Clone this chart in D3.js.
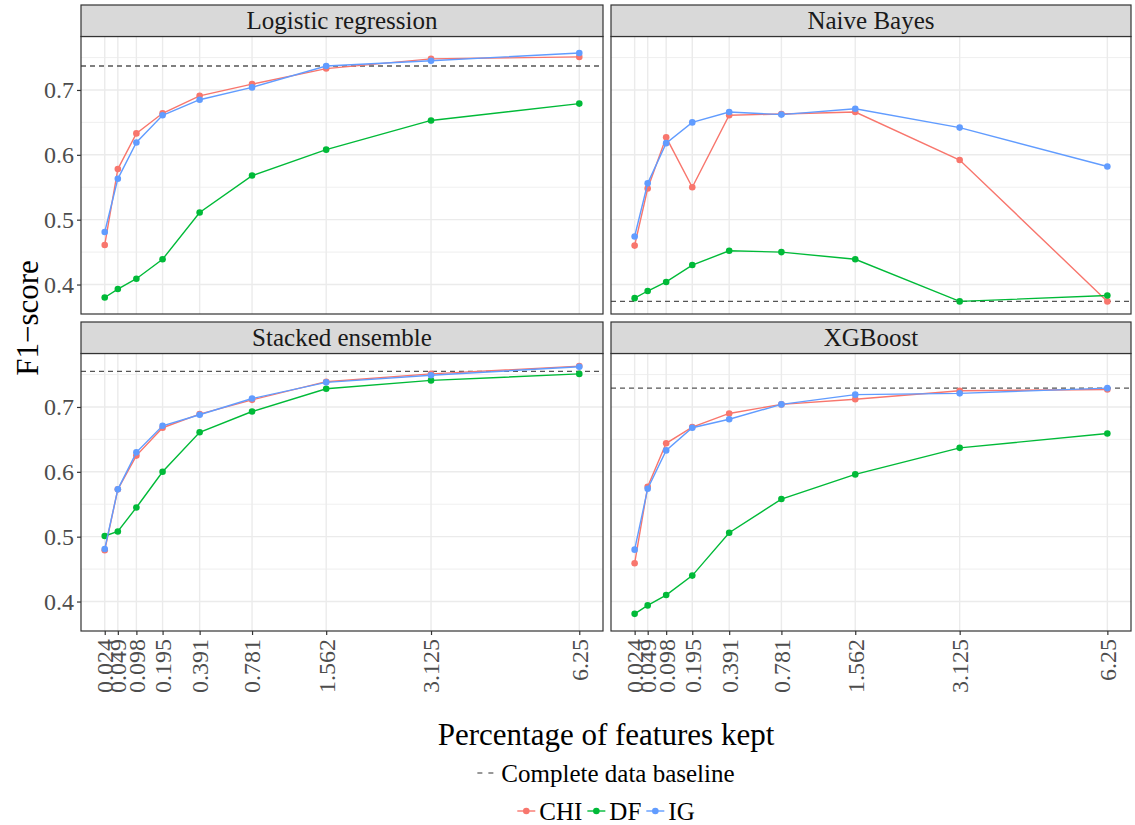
<!DOCTYPE html>
<html>
<head>
<meta charset="utf-8">
<script src="https://cdn.jsdelivr.net/npm/d3@7"></script>
<style>
  html, body { margin: 0; padding: 0; background: #fff; }
  svg { display: block; font-family: "Liberation Serif", "Times New Roman", serif; }
</style>
</head>
<body>
<svg id="chart" width="1135" height="825"></svg>
<script>
// Facets, x positions and series (F1-score per feature selector)
const methods = ["Logistic regression", "Naive Bayes", "Stacked ensemble", "XGBoost"];
const selectors = ["CHI", "DF", "IG"];
const pctKept = [0.0244, 0.0488, 0.0977, 0.1953, 0.3906, 0.78125, 1.5625, 3.125, 6.25];
const pctLabels = ["0.024", "0.049", "0.098", "0.195", "0.391", "0.781", "1.562", "3.125", "6.25"];
const yTicks = [0.4, 0.5, 0.6, 0.7];

const lrCHI = [0.461, 0.578, 0.633, 0.664, 0.691, 0.709, 0.733, 0.748, 0.751];
const lrDF  = [0.380, 0.393, 0.409, 0.439, 0.511, 0.568, 0.608, 0.653, 0.679];
const lrIG  = [0.481, 0.563, 0.619, 0.661, 0.685, 0.704, 0.737, 0.745, 0.757];

const nbCHI = [0.460, 0.548, 0.627, 0.550, 0.661, 0.663, 0.666, 0.592, 0.374];
const nbDF  = [0.379, 0.390, 0.404, 0.430, 0.452, 0.450, 0.439, 0.374, 0.383];
const nbIG  = [0.474, 0.556, 0.618, 0.650, 0.666, 0.662, 0.671, 0.642, 0.582];

const seCHI = [0.479, 0.573, 0.625, 0.668, 0.689, 0.711, 0.739, 0.751, 0.763];
const seDF  = [0.501, 0.508, 0.545, 0.600, 0.661, 0.693, 0.728, 0.741, 0.751];
const seIG  = [0.481, 0.573, 0.630, 0.671, 0.688, 0.713, 0.738, 0.749, 0.762];

const xgCHI = [0.459, 0.577, 0.644, 0.669, 0.690, 0.704, 0.712, 0.725, 0.727];
const xgDF  = [0.381, 0.394, 0.410, 0.440, 0.506, 0.558, 0.596, 0.637, 0.659];
const xgIG  = [0.480, 0.574, 0.633, 0.668, 0.681, 0.704, 0.719, 0.721, 0.729];

// Complete-data F1-score per model
const baselines = [0.737, 0.374, 0.755, 0.729];

const seriesByMethod = [
  [lrCHI, lrDF, lrIG],
  [nbCHI, nbDF, nbIG],
  [seCHI, seDF, seIG],
  [xgCHI, xgDF, xgIG]
];
const colors = { CHI: "#F8766D", DF: "#00BA38", IG: "#619CFF" };

const svg = d3.select("#chart");
const serif = "Liberation Serif, Times New Roman, serif";

// Panel grid geometry
const colX = [[81, 603], [611, 1131]];
const rowY = [{ strip: 5, top: 36.5, bottom: 314 }, { strip: 322, top: 353.5, bottom: 631 }];

// Shared scales (square-root x, linear y), padded 5% beyond the data range
const sx0 = Math.sqrt(d3.min(pctKept)), sx1 = Math.sqrt(d3.max(pctKept));
const xPad = (sx1 - sx0) * 0.05;
const allY = seriesByMethod.flat(2).concat(baselines);
const y0 = d3.min(allY), y1 = d3.max(allY), yPad = (y1 - y0) * 0.05;

const minorY = [0.45, 0.55, 0.65, 0.75];

methods.forEach((m, i) => {
  const c = i % 2, r = Math.floor(i / 2);
  const [xl, xr] = colX[c];
  const row = rowY[r];
  const x = d3.scaleSqrt()
    .domain([Math.pow(sx0 - xPad, 2), Math.pow(sx1 + xPad, 2)])
    .range([xl, xr]);
  const y = d3.scaleLinear().domain([y0 - yPad, y1 + yPad]).range([row.bottom, row.top]);

  const g = svg.append("g");

  // panel background
  g.append("rect").attr("x", xl).attr("y", row.top)
    .attr("width", xr - xl).attr("height", row.bottom - row.top).attr("fill", "#fff");

  // grid lines
  g.selectAll(".minor-y").data(minorY.filter(v => y(v) > row.top && y(v) < row.bottom)).enter()
    .append("line").attr("x1", xl).attr("x2", xr)
    .attr("y1", d => y(d)).attr("y2", d => y(d))
    .attr("stroke", "#EBEBEB").attr("stroke-width", 0.8);
  g.selectAll(".major-y").data(yTicks).enter()
    .append("line").attr("x1", xl).attr("x2", xr)
    .attr("y1", d => y(d)).attr("y2", d => y(d))
    .attr("stroke", "#EBEBEB").attr("stroke-width", 1.4);
  g.selectAll(".major-x").data(pctKept).enter()
    .append("line").attr("y1", row.top).attr("y2", row.bottom)
    .attr("x1", d => x(d)).attr("x2", d => x(d))
    .attr("stroke", "#EBEBEB").attr("stroke-width", 1.4);

  // complete-data baseline
  g.append("line").attr("x1", xl).attr("x2", xr)
    .attr("y1", y(baselines[i])).attr("y2", y(baselines[i]))
    .attr("stroke", "#555").attr("stroke-width", 1.3).attr("stroke-dasharray", "5,4");

  // series lines and points
  const line = d3.line().x((d, k) => x(pctKept[k])).y(d => y(d));
  selectors.forEach((s, k) => {
    const vals = seriesByMethod[i][k];
    g.append("path").datum(vals).attr("d", line)
      .attr("fill", "none").attr("stroke", colors[s]).attr("stroke-width", 1.4);
    g.selectAll(".pt-" + s).data(vals).enter().append("circle")
      .attr("cx", (d, j) => x(pctKept[j])).attr("cy", d => y(d))
      .attr("r", 3.3).attr("fill", colors[s]);
  });

  // panel border
  g.append("rect").attr("x", xl).attr("y", row.top)
    .attr("width", xr - xl).attr("height", row.bottom - row.top)
    .attr("fill", "none").attr("stroke", "#333").attr("stroke-width", 1.2);

  // facet strip
  g.append("rect").attr("x", xl).attr("y", row.strip)
    .attr("width", xr - xl).attr("height", row.top - row.strip)
    .attr("fill", "#D9D9D9").attr("stroke", "#333").attr("stroke-width", 1.2);
  g.append("text").attr("x", (xl + xr) / 2).attr("y", (row.strip + row.top) / 2 + 8.5)
    .attr("text-anchor", "middle").attr("font-size", 25).attr("fill", "#1A1A1A").text(m);

  // y axis on left column
  if (c === 0) {
    const ay = svg.append("g").attr("transform", `translate(${xl},0)`)
      .call(d3.axisLeft(y).tickValues(yTicks).tickFormat(d3.format(".1f")).tickSize(4).tickPadding(3));
    ay.attr("font-family", serif);
    ay.select(".domain").remove();
    ay.selectAll(".tick line").attr("stroke", "#333").attr("stroke-width", 1.2);
    ay.selectAll(".tick text").attr("font-size", 24).attr("fill", "#4D4D4D");
  }
  // x axis on bottom row
  if (r === 1) {
    const ax = svg.append("g").attr("transform", `translate(0,${row.bottom})`)
      .call(d3.axisBottom(x).tickValues(pctKept).tickFormat((d, j) => pctLabels[j]).tickSize(4).tickPadding(4));
    ax.attr("font-family", serif);
    ax.select(".domain").remove();
    ax.selectAll(".tick line").attr("stroke", "#333").attr("stroke-width", 1.2);
    ax.selectAll(".tick text").attr("font-size", 24).attr("fill", "#4D4D4D")
      .attr("transform", "rotate(-90)")
      .attr("text-anchor", "end")
      .attr("x", -8).attr("y", 0).attr("dy", "0.33em");
  }
});

// axis titles
svg.append("text").attr("x", 606).attr("y", 745).attr("text-anchor", "middle")
  .attr("font-size", 31).attr("fill", "#000").text("Percentage of features kept");
svg.append("text").attr("transform", "translate(38,318) rotate(-90)").attr("text-anchor", "middle")
  .attr("font-size", 31).attr("fill", "#000").text("F1\u2212score");

// legend: baseline row
const leg1 = svg.append("g");
const t1 = leg1.append("text").attr("x", 0).attr("y", 782).attr("font-size", 25).attr("fill", "#000")
  .text("Complete data baseline");
const w1 = t1.node().getComputedTextLength();
const keyW = 18, gap = 6;
const start1 = 606 - (keyW + gap + w1) / 2;
leg1.append("line").attr("x1", start1).attr("x2", start1 + keyW).attr("y1", 773).attr("y2", 773)
  .attr("stroke", "#333").attr("stroke-width", 1.2).attr("stroke-dasharray", "5,6");
t1.attr("x", start1 + keyW + gap);

// legend: selector row
const leg2 = svg.append("g");
const items = selectors.map(s => {
  const t = leg2.append("text").attr("y", 820).attr("font-size", 25).attr("fill", "#000").text(s);
  return { s, t, w: t.node().getComputedTextLength() };
});
const itemGap = 5;
const total = d3.sum(items, d => keyW + 4 + d.w) + itemGap * (items.length - 1);
let cx = 606 - total / 2;
items.forEach(d => {
  leg2.append("line").attr("x1", cx).attr("x2", cx + keyW).attr("y1", 811).attr("y2", 811)
    .attr("stroke", colors[d.s]).attr("stroke-width", 1.4);
  leg2.append("circle").attr("cx", cx + keyW / 2).attr("cy", 811).attr("r", 3.3).attr("fill", colors[d.s]);
  d.t.attr("x", cx + keyW + 4);
  cx += keyW + 4 + d.w + itemGap;
});
</script>
</body>
</html>
